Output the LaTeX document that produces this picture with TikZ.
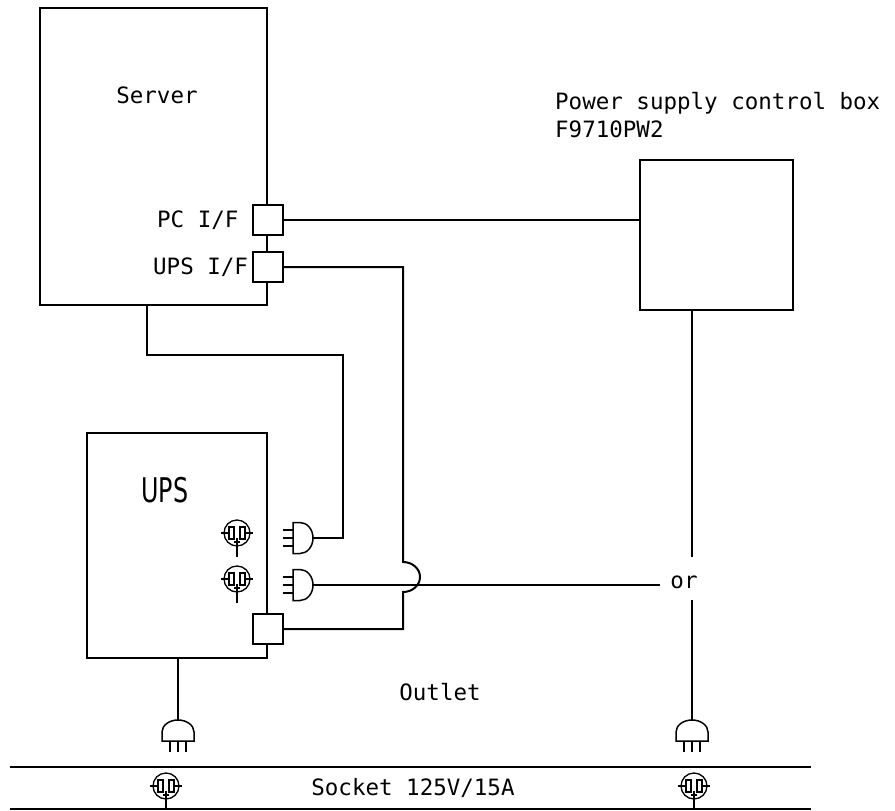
\documentclass[tikz,border=0pt]{standalone}
\usepackage{fontspec}
\newfontfamily\gothic{DejaVu Sans Mono}
\newfontfamily\upsfont{DejaVu Sans}
\tikzset{
  wire/.style={line width=2pt},
  box/.style={draw, line width=2pt, inner sep=0pt},
  port/.style={draw, fill=white, line width=2pt, minimum size=30pt, inner sep=0pt},
  lbl/.style={font=\gothic\fontsize{22.5}{26}\selectfont, inner sep=0pt},
  plugh/.pic={
    \draw[line width=1.5pt] (-20,-15.5) -- (-13,-15.5)
      arc[start angle=-90, end angle=90, x radius=13, y radius=15.5]
      -- (-20,15.5) -- cycle;
    \draw[line width=1.5pt] (-30,-8) -- (-20,-8) (-30,0) -- (-20,0) (-30,8) -- (-20,8);
  },
  plugv/.pic={
    \draw[line width=1.5pt] (-16,12)
      arc[start angle=180, end angle=360, x radius=16, y radius=12]
      -- (16,21) -- (-16,21) -- cycle;
    \draw[line width=1.5pt] (-8,21) -- (-8,32) (0,21) -- (0,32) (8,21) -- (8,32);
  },
  socket/.pic={
    \draw[line width=1.3pt] (0,0) circle[radius=13];
    \draw[line width=1.3pt] (-8,-6) rectangle (-3,6) (3,-6) rectangle (8,6);
    \draw[line width=1.3pt] (-16,0) -- (-8,0) (8,0) -- (16,0);
    \draw[line width=1.3pt] (0,5) -- (0,24) (-3,9) -- (3,9);
  }
}
\begin{document}
\begin{tikzpicture}[x=1pt,y=-1pt]
\useasboundingbox (0,0) rectangle (895,811);

\node[box, minimum width=227pt, minimum height=297pt] (server) at (153.5,156.5) {};
\node[box, minimum width=153pt, minimum height=150pt] (ctrl) at (716.5,235) {};
\node[box, minimum width=180pt, minimum height=225pt] (ups) at (177,545.5) {};
\node[port] (pcif) at (268,220) {};
\node[port] (upsif) at (268,267) {};
\node[port] (upsport) at (268,629) {};

\node[lbl] (srvlbl) at (157,95) {Server};
\node[lbl, anchor=west] (pclbl) at (157,220) {PC I/F};
\node[lbl, anchor=west] (upsiflbl) at (153,267) {UPS I/F};
\node[lbl, anchor=west] (ctrllbl) at (555,103) {Power supply control box};
\node[lbl, anchor=west] (ctrlmodel) at (555,129) {F9710PW2};
\node[inner sep=0pt, font=\upsfont\fontsize{34}{40}\selectfont] (upslbl) at (165,490) {\scalebox{0.7}[1]{UPS}};
\node[lbl] (orlbl) at (684,582) {or};
\node[lbl] (outletlbl) at (440,692) {Outlet};
\node[lbl] (socketlbl) at (413,788) {Socket 125V/15A};

\coordinate (plugA) at (313,538);
\coordinate (plugB) at (313,585);
\coordinate (plugL) at (178,720);
\coordinate (plugR) at (692,720);
\coordinate (bend1) at (147,355);
\coordinate (bend2) at (343,538);
\coordinate (hoptop) at (403,562);
\coordinate (orleft) at (660,585);
\coordinate (ortop) at (692,557);
\coordinate (orbot) at (692,600);
\coordinate (barTL) at (10,767);
\coordinate (barTR) at (811,767);
\coordinate (barBL) at (10,809);
\coordinate (barBR) at (811,809);

\draw[wire] (pcif.east) -- (pcif.east -| ctrl.west);
\draw[wire] (upsif.east) -| (hoptop)
  arc[start angle=-90, end angle=90, x radius=17, y radius=15] |- (upsport.east);
\draw[wire] (server.south -| bend1) -- (bend1) -| (bend2) -- (plugA);
\draw[wire] (plugB) -- (orleft);
\draw[wire] (ctrl.south -| ortop) -- (ortop);
\draw[wire] (orbot) -- (plugR);
\draw[wire] (ups.south -| plugL) -- (plugL);
\draw[wire] (barTL) -- (barTR);
\draw[wire] (barBL) -- (barBR);

\pic at (plugA) {plugh};
\pic at (plugB) {plugh};
\pic at (plugL) {plugv};
\pic at (plugR) {plugv};
\pic at (237,533) {socket};
\pic at (237,579) {socket};
\pic at (166,786) {socket};
\pic at (694,786) {socket};
\end{tikzpicture}
\end{document}
